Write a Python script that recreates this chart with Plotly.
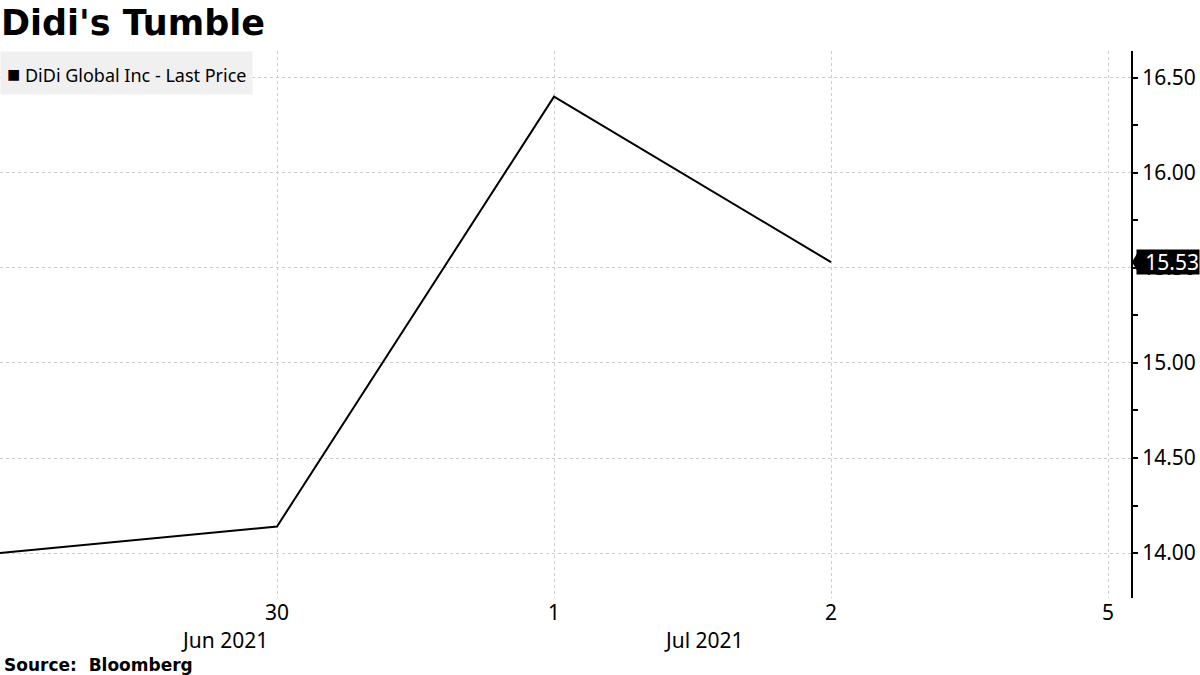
import plotly.graph_objects as go

# ---- data ----
dates = ["Jun 29", "Jun 30", "Jul 1", "Jul 2"]
prices = [14.00, 14.14, 16.40, 15.53]
tick_labels = ["30", "1", "2", "5"]
tick_positions = [1, 2, 3, 4]
month_labels = ["Jun 2021", "Jul 2021"]
month_positions = [0.81, 2.54]
y_ticks = [14.0, 14.5, 15.0, 15.5, 16.0, 16.5]

x_idx = list(range(len(dates)))

FONT = "Noto Sans"
BOLD = "DejaVu Sans"

fig = go.Figure()
fig.add_trace(go.Scatter(
    x=x_idx, y=prices, mode="lines",
    line=dict(color="black", width=2),
    name="DiDi Global Inc - Last Price",
    text=dates, hoverinfo="text+y", showlegend=False,
))

fig.update_layout(
    width=1200, height=675,
    paper_bgcolor="white", plot_bgcolor="white",
    margin=dict(l=0, r=69, t=51, b=77, autoexpand=False),
    font=dict(family=FONT, color="black"),
    xaxis=dict(
        range=[0, 4.083],
        tickvals=tick_positions, ticktext=tick_labels,
        showgrid=True, gridcolor="#cccccc", griddash="dot", gridwidth=1,
        showline=False, zeroline=False, ticks="",
        tickfont=dict(family=FONT, size=21, color="black"),
        automargin=False,
    ),
    yaxis=dict(
        side="right", range=[13.764, 16.64],
        tickvals=y_ticks, ticktext=[f"{v:.2f}" for v in y_ticks],
        showgrid=True, gridcolor="#cccccc", griddash="dot", gridwidth=1,
        showline=True, linecolor="black", linewidth=2,
        ticks="outside", ticklen=5, tickcolor="black", tickwidth=2,
        minor=dict(ticks="outside", ticklen=5, tickcolor="black", dtick=0.25, tick0=14.0, showgrid=False),
        zeroline=False, automargin=False,
        tickfont=dict(family=FONT, size=21, color="black"),
    ),
)

# title
fig.add_annotation(text="<b>Didi's Tumble</b>", xref="paper", yref="paper",
                   x=0, y=1, yshift=50, xshift=-1, xanchor="left", yanchor="top",
                   showarrow=False, font=dict(family=BOLD, size=35, color="black"))

# legend box
fig.add_annotation(text="<span style='font-size:22px'>■</span> DiDi Global Inc - Last Price",
                   xref="paper", yref="paper",
                   x=0, y=1, yshift=0, xanchor="left", yanchor="top",
                   showarrow=False, bgcolor="#f0f0f0", borderpad=6,
                   font=dict(family=FONT, size=18, color="black"))

# month labels
for lbl, pos in zip(month_labels, month_positions):
    fig.add_annotation(text=lbl, x=pos, xref="x", yref="paper", y=0, yshift=-26,
                       xanchor="center", yanchor="top", showarrow=False,
                       font=dict(family=FONT, size=21, color="black"))

# last value tag
last = prices[-1]
fig.add_annotation(text=f"{last:.2f}", xref="paper", x=1, xshift=5, y=last, yref="y",
                   xanchor="left", yanchor="middle", showarrow=False,
                   width=62, height=24, align="right",
                   bgcolor="black", borderpad=0,
                   font=dict(family=FONT, size=21, color="white"))
fig.add_shape(type="path", xref="paper", yref="y",
              xsizemode="pixel", ysizemode="pixel", xanchor=1, yanchor=last,
              path="M 1 0 L 8 12 L 8 -12 Z", fillcolor="black", line=dict(width=0))

# source
fig.add_annotation(text="<b>Source:  Bloomberg</b>", xref="paper", yref="paper",
                   x=0, y=0, yshift=-55, xshift=2, xanchor="left", yanchor="top",
                   showarrow=False, font=dict(family=BOLD, size=17, color="black"))

fig.write_html("out.html", config={"displayModeBar": False},
               post_script="document.body.style.margin='0';")
